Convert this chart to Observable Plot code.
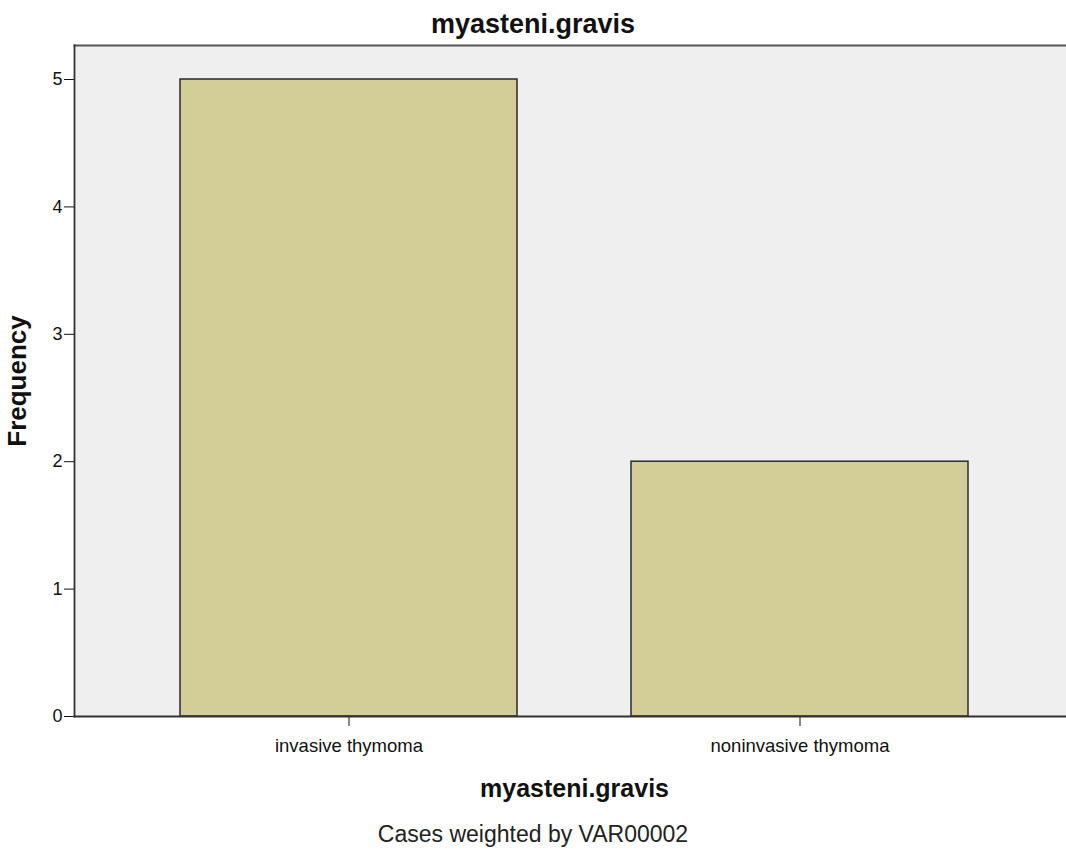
<!DOCTYPE html>
<html>
<head>
<meta charset="utf-8">
<script src="https://cdn.jsdelivr.net/npm/d3@7"></script>
<script src="https://cdn.jsdelivr.net/npm/@observablehq/plot@0.6"></script>
<style>
  html, body { margin: 0; padding: 0; background: #ffffff; }
  body { width: 1066px; height: 853px; overflow: hidden; font-family: "Liberation Sans", Arial, sans-serif; color: #111; }
  #title { box-sizing: border-box; height: 44px; padding-top: 9px; text-align: center; font-weight: bold; font-size: 27px; line-height: 30px; }
  #caption { margin-top: 7px; text-align: center; font-size: 23px; line-height: 26px; color: #222; }
  #chart svg { display: block; }
  g[aria-label="x-axis label"] text, g[aria-label="y-axis label"] text { font-weight: bold; }
  g[aria-label="x-axis label"] { font-size: 25px; }
  g[aria-label="y-axis label"] { font-size: 26px; }
  g[aria-label="x-axis tick label"] { font-size: 18.5px; }
</style>
</head>
<body>
<div id="title">myasteni.gravis</div>
<div id="chart"></div>
<div id="caption">Cases weighted by VAR00002</div>
<script>
const categories = ["invasive thymoma", "noninvasive thymoma"];
const frequencies = [5, 2];
const yTicks = [0, 1, 2, 3, 4, 5];

const data = categories.map((c, i) => ({category: c, frequency: frequencies[i]}));

const chart = Plot.plot({
  width: 1066,
  height: 770,
  marginTop: 1,
  marginLeft: 74,
  marginRight: -8,
  marginBottom: 98,
  style: {fontFamily: '"Liberation Sans", Arial, sans-serif', fontSize: "18px", color: "#111", background: "transparent"},
  x: {
    domain: categories,
    paddingInner: 0.253,
    paddingOuter: 0.235,
    label: "myasteni.gravis",
    labelArrow: "none",
    labelAnchor: "center",
    labelOffset: 80,
    tickSize: 10,
    tickPadding: 12
  },
  y: {
    domain: [0, 5.267],
    ticks: yTicks,
    tickFormat: d3.format("d"),
    label: "Frequency",
    labelArrow: "none",
    labelAnchor: "center",
    labelOffset: 67,
    tickSize: 10,
    tickPadding: 2
  },
  marks: [
    Plot.frame({fill: "#efefef", stroke: null}),
    Plot.barY(data, {x: "category", y: "frequency", fill: "#d3cd98", stroke: "#2b2b2b", strokeWidth: 1.5}),
    Plot.frame({anchor: "top", stroke: "#555", strokeWidth: 2}),
    Plot.frame({anchor: "left", stroke: "#333", strokeWidth: 1.8}),
    Plot.frame({anchor: "bottom", stroke: "#333", strokeWidth: 1.8})
  ]
});
document.getElementById("chart").appendChild(chart);
</script>
</body>
</html>
